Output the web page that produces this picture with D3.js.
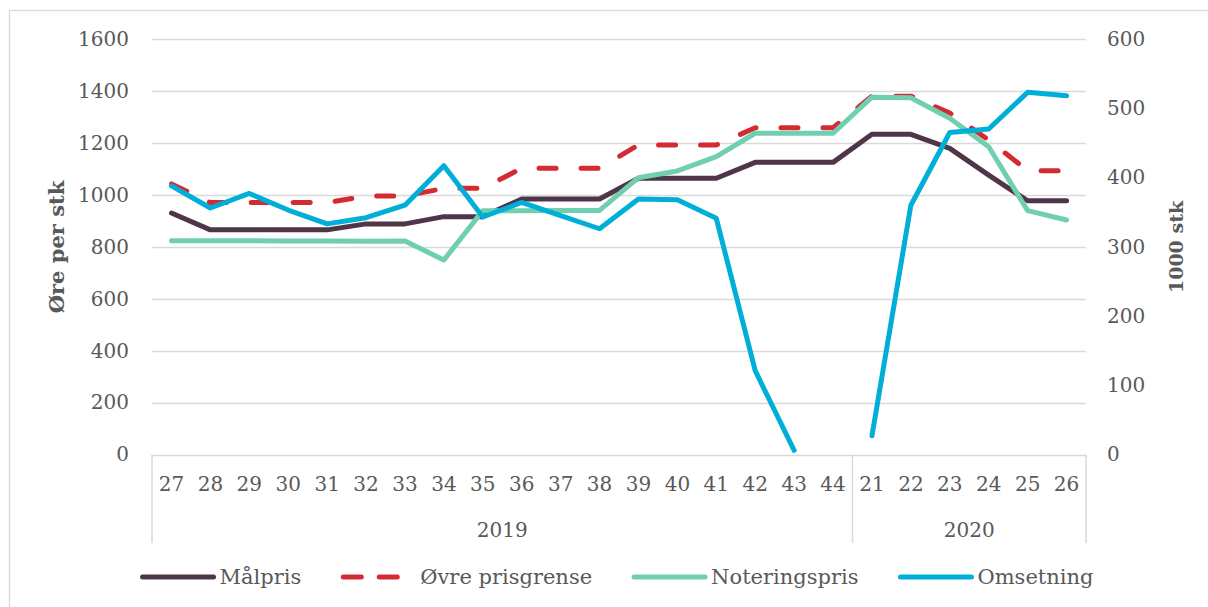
<!DOCTYPE html>
<html><head><meta charset="utf-8">
<script src="https://cdn.jsdelivr.net/npm/d3@7"></script>
<style>
body{margin:0;background:#fff}
text{font-family:"DejaVu Serif",serif;fill:#595959}
</style>
</head><body>
<svg id="c" width="1208" height="607"></svg>
<script>
// ---- data ----
const weeks = ["27","28","29","30","31","32","33","34","35","36","37","38","39","40","41","42","43","44","21","22","23","24","25","26"];
const yearLabels = ["2019","2020"];
const yearCounts = [18, 6];
const leftTicks = [0,200,400,600,800,1000,1200,1400,1600];
const rightTicks = [0,100,200,300,400,500,600];
const seriesNames = ["Målpris","Øvre prisgrense","Noteringspris","Omsetning"];
const malpris = [930,865,865,865,865,888,888,916,916,984,984,984,1064,1064,1064,1125,1125,1125,1233,1233,1179,1076,977,977];
const ovrePrisgrense = [1042,970,970,970,970,995,995,1025,1025,1102,1102,1102,1192,1192,1192,1258,1258,1258,1380,1380,1315,1211,1093,1093];
const noteringspris = [823,823,823,822,822,821,822,749,939,939,940,940,1066,1092,1147,1237,1237,1237,1376,1374,1295,1185,939,903];
const omsetning = [388,356,377,353,333,342,360,417,343,364,345,326,369,368,341,121,6,null,27,360,465,470,523,518];

// ---- layout ----
const plot = {left:152, right:1086, top:39, bottom:454.5};
const svg = d3.select("#c");
const grid = "#D9D9D9";
const colors = {m:"#4E3547", o:"#D42A32", n:"#70CFB1", s:"#00AFD7"};
const FS = 20;

svg.append("rect").attr("x",9.5).attr("y",10.5).attr("width",1210).attr("height",620)
  .attr("fill","none").attr("stroke",grid).attr("stroke-width",1.3);

const x = d3.scaleBand().domain(d3.range(weeks.length)).range([plot.left, plot.right]).padding(0);
const yL = d3.scaleLinear().domain([0,1600]).range([plot.bottom, plot.top]);
const yR = d3.scaleLinear().domain([0,600]).range([plot.bottom, plot.top]);
const cx = i => x(i) + x.bandwidth()/2;

// gridlines
svg.append("g").selectAll("line").data(leftTicks).join("line")
  .attr("x1",plot.left).attr("x2",plot.right)
  .attr("y1",d=>Math.round(yL(d))+0.5).attr("y2",d=>Math.round(yL(d))+0.5)
  .attr("stroke",grid).attr("stroke-width",1.5);

function styleTicks(g){
  g.select(".domain").remove();
  g.selectAll("text").attr("font-size",FS).style("font-family",'"DejaVu Serif",serif').attr("fill","#595959");
}
// left axis labels
svg.append("g").attr("transform",`translate(${plot.left},0)`)
  .call(d3.axisLeft(yL).tickValues(leftTicks).tickFormat(d3.format("d")).tickSize(0).tickPadding(23))
  .call(styleTicks);
// right axis labels
svg.append("g").attr("transform",`translate(${plot.right},0)`)
  .call(d3.axisRight(yR).tickValues(rightTicks).tickFormat(d3.format("d")).tickSize(0).tickPadding(21))
  .call(styleTicks);
// bottom category labels
svg.append("g").attr("transform",`translate(0,${plot.bottom})`)
  .call(d3.axisBottom(x).tickFormat(i=>weeks[i]).tickSize(0).tickPadding(22))
  .call(styleTicks);

// year groups and separators
let start = 0;
const seps = [plot.left];
yearLabels.forEach((yl,k)=>{
  const a = x(start), b = x(start+yearCounts[k]-1)+x.bandwidth();
  svg.append("text").attr("x",(a+b)/2).attr("y",537).attr("text-anchor","middle")
    .attr("font-size",FS).text(yl);
  seps.push(b);
  start += yearCounts[k];
});
svg.append("g").selectAll("line").data(seps).join("line")
  .attr("x1",d=>d).attr("x2",d=>d).attr("y1",plot.bottom).attr("y2",543)
  .attr("stroke",grid).attr("stroke-width",1.5);

// axis titles
svg.append("text").attr("transform",`translate(64,247) rotate(-90)`).attr("text-anchor","middle")
  .attr("font-size",21).attr("font-weight","bold").text("Øre per stk");
svg.append("text").attr("transform",`translate(1183,247) rotate(-90)`).attr("text-anchor","middle")
  .attr("font-size",19).attr("font-weight","bold").text("1000 stk");

// lines
const lineL = d3.line().defined(d=>d!=null).x((d,i)=>cx(i)).y(d=>yL(d));
const lineR = d3.line().defined(d=>d!=null).x((d,i)=>cx(i)).y(d=>yR(d));
const styles = [
  {data:malpris, gen:lineL, color:colors.m, dash:null},
  {data:ovrePrisgrense, gen:lineL, color:colors.o, dash:"17,25"},
  {data:noteringspris, gen:lineL, color:colors.n, dash:null},
  {data:omsetning, gen:lineR, color:colors.s, dash:null}
];
styles.forEach(s=>{
  svg.append("path").attr("d",s.gen(s.data)).attr("fill","none")
    .attr("stroke",s.color).attr("stroke-width",5)
    .attr("stroke-linecap","round").attr("stroke-linejoin","round")
    .attr("stroke-dasharray",s.dash);
});

// legend
const lg = svg.append("g");
const items = [];
seriesNames.forEach((name,k)=>{
  const g = lg.append("g");
  g.append("line").attr("x1",0).attr("x2",71).attr("y1",0).attr("y2",0)
    .attr("stroke",styles[k].color).attr("stroke-width",5).attr("stroke-linecap","round")
    .attr("stroke-dasharray",styles[k].dash ? "18,18" : null);
  const t = g.append("text").attr("x",77).attr("y",0).attr("dy","0.35em").attr("font-size",21).text(name);
  items.push({g, w:77 + t.node().getComputedTextLength()});
});
const gap = 42;
const total = d3.sum(items,d=>d.w) + gap*(items.length-1);
let lx = 618 - total/2;
items.forEach(it=>{ it.g.attr("transform",`translate(${lx},577)`); lx += it.w + gap; });
</script>
</body></html>
